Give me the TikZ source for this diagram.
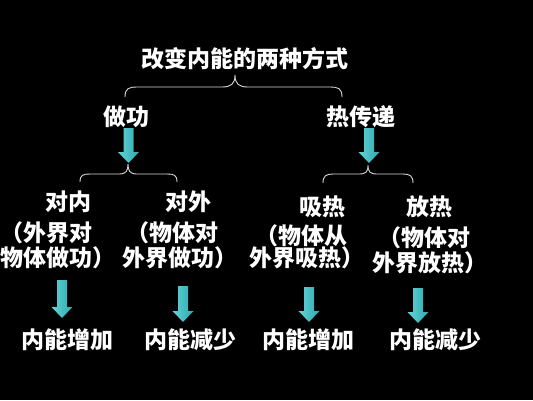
\documentclass[tikz,border=0pt]{standalone}
\usepackage{fontspec}
\newfontfamily\cjk{Noto Sans CJK SC}
\definecolor{arrowcyan}{HTML}{3EC1C6}
\definecolor{arrowlight}{HTML}{62D4D8}
\definecolor{arrowdark}{HTML}{2EA8AE}
\definecolor{bracegray}{HTML}{D8D8D8}
\tikzset{
  lbl/.style={text=white, inner sep=0pt, font=\cjk\bfseries\fontsize{23}{27}\selectfont},
  bracepath/.style={draw=bracegray, line width=0.9pt},
}
\newcommand{\blockarrow}[4]{% name, x, ytop, ytip
  \coordinate (#1) at (#2,#3);
  \shade[left color=arrowlight, right color=arrowdark]
    ($(#1)+(-5,0)$) -- ($(#1)+(5,0)$) -- ($(#1)+(5,#4-#3-11)$) -- ($(#1)+(10.5,#4-#3-11)$)
    -- ($(#1)+(0,#4-#3)$) -- ($(#1)+(-10.5,#4-#3-11)$) -- ($(#1)+(-5,#4-#3-11)$) -- cycle;
}
\usetikzlibrary{calc}
\begin{document}
\begin{tikzpicture}[x=1pt,y=-1pt]
\fill[black] (0,0) rectangle (533,400);
\useasboundingbox (0,0) rectangle (533,400);
% title and first level
\node[lbl] (title) at (245,59) {改变内能的两种方式};
\node[lbl] (work) at (126.5,117) {做功};
\node[lbl] (heat) at (361,117) {热传递};
% big brace
\draw[bracepath] (125,97) .. controls (125,88) and (129,87) .. (138,87) -- (222,87)
  .. controls (231,87) and (235,84) .. (235,75)
  .. controls (235,84) and (239,87) .. (248,87) -- (329,87)
  .. controls (338,87) and (342,88) .. (342,97);
% arrows first level
\blockarrow{a1}{128.5}{128}{163}
\blockarrow{a2}{369}{128}{163}
% small braces
\draw[bracepath] (80,182) .. controls (80,175) and (83,174) .. (90,174) -- (119,174)
  .. controls (126,174) and (128,171) .. (128,164)
  .. controls (128,171) and (130,174) .. (137,174) -- (167,174)
  .. controls (174,174) and (177,175) .. (177,182);
\draw[bracepath] (323,183) .. controls (323,176) and (326,174) .. (333,174) -- (359,174)
  .. controls (366,174) and (368,172) .. (368,165)
  .. controls (368,172) and (370,174) .. (377,174) -- (403,174)
  .. controls (410,174) and (413,176) .. (413,183);
% second level text
\node[lbl] (c1a) at (68.5,202) {对内};
\node[lbl] (c1b) at (47,233) {（外界对};
\node[lbl] (c1c) at (58.5,258) {物体做功）};
\node[lbl] (c2a) at (188.5,202) {对外};
\node[lbl] (c2b) at (172.5,233) {（物体对};
\node[lbl] (c2c) at (180,258) {外界做功）};
\node[lbl] (c3a) at (322.5,207) {吸热};
\node[lbl] (c3b) at (301,236) {（物体从};
\node[lbl] (c3c) at (307,258) {外界吸热）};
\node[lbl] (c4a) at (429.5,207) {放热};
\node[lbl] (c4b) at (424,238) {（物体对};
\node[lbl] (c4c) at (430,263) {外界放热）};
% bottom arrows
\blockarrow{b1}{62}{280}{318}
\blockarrow{b2}{183}{286}{322}
\blockarrow{b3}{309}{287}{322}
\blockarrow{b4}{418}{288}{323}
% bottom text
\node[lbl] (r1) at (67,340) {内能增加};
\node[lbl] (r2) at (190,340) {内能减少};
\node[lbl] (r3) at (308,340) {内能增加};
\node[lbl] (r4) at (435,340) {内能减少};
\end{tikzpicture}
\end{document}
